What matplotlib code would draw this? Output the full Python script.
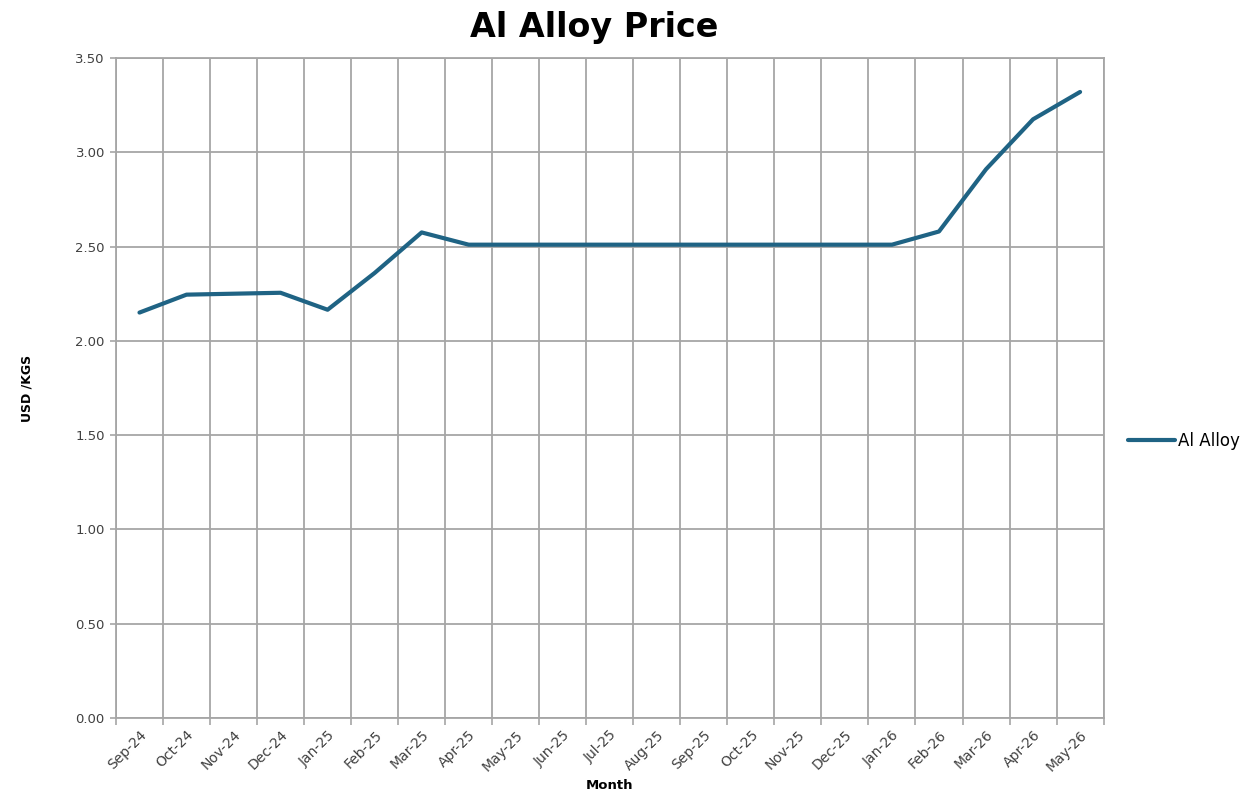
import numpy as np
import matplotlib.pyplot as plt

months = ["Sep-24", "Oct-24", "Nov-24", "Dec-24", "Jan-25", "Feb-25", "Mar-25",
          "Apr-25", "May-25", "Jun-25", "Jul-25", "Aug-25", "Sep-25", "Oct-25",
          "Nov-25", "Dec-25", "Jan-26", "Feb-26", "Mar-26", "Apr-26", "May-26"]
al_alloy = [2.15, 2.245, 2.25, 2.255, 2.165, 2.36, 2.575,
            2.51, 2.51, 2.51, 2.51, 2.51, 2.51, 2.51,
            2.51, 2.51, 2.51, 2.58, 2.91, 3.175, 3.32]
y_ticks = [0.0, 0.5, 1.0, 1.5, 2.0, 2.5, 3.0, 3.5]

grid_col = "#a6a6a6"
line_col = "#1f6384"

fig = plt.figure(figsize=(12.47, 7.98), dpi=100)
ax = fig.add_axes([0.093, 0.1003, 0.792, 0.827])

x = np.arange(len(months))
ax.plot(x, al_alloy, color=line_col, lw=3.0, label="Al Alloy",
        solid_joinstyle="round", solid_capstyle="round", zorder=3)

ax.set_xlim(-0.5, len(months) - 0.5)
ax.set_ylim(0, 3.5)

# category boundaries carry grid + tick marks; labels sit at centres
ax.set_xticks(x)
ax.set_xticklabels(months, rotation=45, ha="right", rotation_mode="anchor",
                   fontsize=10, color="#404040")
ax.tick_params(axis="x", which="major", length=0, pad=7)
ax.set_xticks(np.arange(-0.5, len(months)), minor=True)
ax.tick_params(axis="x", which="minor", length=5, width=1.2, color=grid_col)
ax.grid(True, axis="x", which="minor", color=grid_col, lw=1.3)

ax.set_yticks(y_ticks)
ax.set_yticklabels([f"{v:.2f}" for v in y_ticks], fontsize=9.5, color="#404040")
ax.tick_params(axis="y", length=4, width=1.2, color=grid_col, pad=4)
ax.grid(True, axis="y", color=grid_col, lw=1.3)

for s in ax.spines.values():
    s.set_color(grid_col)
    s.set_linewidth(1.3)

fig.text(594 / 1247, 1 - 27 / 798, "Al Alloy Price", fontsize=24,
         fontweight="bold", ha="center", va="center")
ax.set_ylabel("USD /KGS", fontsize=9, fontweight="bold", labelpad=30)
ax.set_xlabel("Month", fontsize=9.5, fontweight="bold", labelpad=4)

ax.legend(loc="center left", bbox_to_anchor=(1.01, 0.42), frameon=False,
          fontsize=12, handlelength=2.8, handletextpad=0.2)

fig.savefig("out.png", dpi=100)
